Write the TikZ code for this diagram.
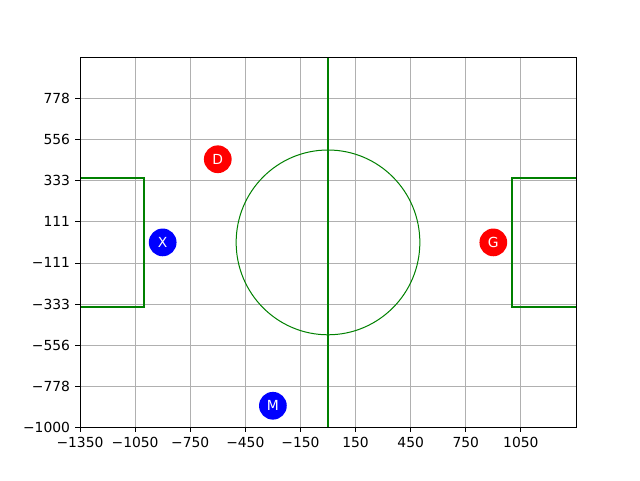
\documentclass[tikz,border=0pt]{standalone}
\usepackage{fontspec}
\setmainfont{DejaVu Sans}
\definecolor{mplgreen}{HTML}{008000}
\definecolor{gridgray}{HTML}{B0B0B0}
\tikzset{
  gridline/.style={draw=gridgray, line width=0.6pt},
  frame/.style={draw=black, line width=0.6pt},
  tickmark/.style={draw=black, line width=0.6pt},
  fieldline/.style={draw=mplgreen, line width=1.25pt},
  thinfield/.style={draw=mplgreen, line width=0.75pt},
  player/.style={circle, minimum size=20.8pt, inner sep=0pt, text=white},
  redp/.style={player, fill=red},
  bluep/.style={player, fill=blue},
  xlab/.style={anchor=north, inner sep=0pt},
  ylab/.style={anchor=east, inner sep=0pt}
}
\begin{document}
\begin{tikzpicture}[x=0.75pt,y=0.75pt, font=\fontsize{10.4}{12}\selectfont]
\useasboundingbox (0,0) rectangle (640,480);
\begin{scope}[shift={(328,237.6)}, x=0.137778pt, y=0.1386pt]
  % grid
  \foreach \gx in {-1050,-750,-450,-150,150,450,750,1050}
    \draw[gridline] (\gx,-1000) -- (\gx,1000);
  \foreach \gy in {-777.78,-555.56,-333.33,-111.11,111.11,333.33,555.56,777.78}
    \draw[gridline] (-1350,\gy) -- (1350,\gy);
  % field lines
  \begin{scope}
    \clip (-1350,-1000) rectangle (1350,1000);
    \draw[thinfield] (0,0) circle [radius=500];
    \draw[fieldline] (0,-1000) -- (0,1000);
    \draw[fieldline] (-1360,350) -- (-1000,350) -- (-1000,-350) -- (-1360,-350);
    \draw[fieldline] (1360,350) -- (1000,350) -- (1000,-350) -- (1360,-350);
  \end{scope}
  % frame
  \draw[frame] (-1350,-1000) rectangle (1350,1000);
  % x ticks
  \foreach \gx/\lab in {-1350/−1350,-1050/−1050,-750/−750,-450/−450,-150/−150,150/150,450/450,750/750,1050/1050} {
    \draw[tickmark] (\gx,-1000) -- ++(0,-3.65pt);
    \node[xlab] (xt\gx) at ([yshift=-7.3pt]\gx,-1000) {\lab};
  }
  % y ticks
  \foreach \gy/\lab/\nm in {-1000/−1000/a,-777.78/−778/b,-555.56/−556/c,-333.33/−333/d,-111.11/−111/e,111.11/111/f,333.33/333/g,555.56/556/h,777.78/778/i} {
    \draw[tickmark] (-1350,\gy) -- ++(-3.65pt,0);
    \node[ylab] (yt\nm) at ([xshift=-7.3pt]-1350,\gy) {\lab};
  }
  % players
  \node[redp] (D) at (-600,450) {D};
  \node[redp] (G) at (900,0) {G};
  \node[bluep] (X) at (-900,0) {X};
  \node[bluep] (M) at (-300,-884) {M};
\end{scope}
\end{tikzpicture}
\end{document}
